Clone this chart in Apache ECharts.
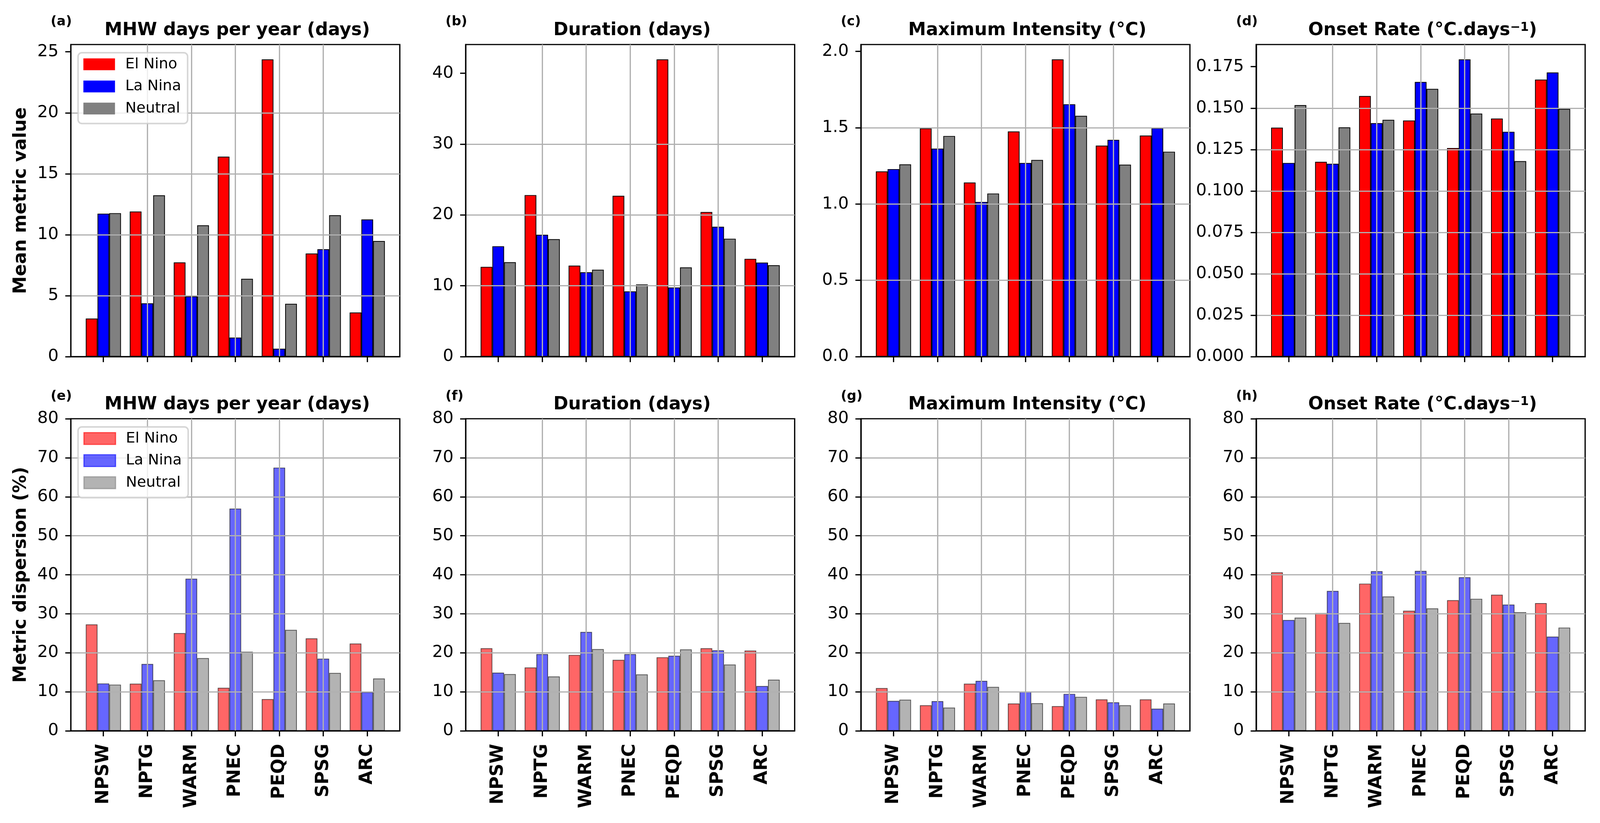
<!DOCTYPE html>
<html><head><meta charset="utf-8">
<script src="https://cdn.jsdelivr.net/npm/echarts@6/dist/echarts.min.js"></script>
<style>html,body{margin:0;padding:0;background:#fff;overflow:hidden}#c{width:100vw;height:100vh}</style>
</head><body><div id="c"></div>
<script>
// ---------- data ----------
const regions = ['NPSW', 'NPTG', 'WARM', 'PNEC', 'PEQD', 'SPSG', 'ARC'];
const seriesNames = ['El Nino', 'La Nina', 'Neutral'];
const panelTitles = ['MHW days per year (days)', 'Duration (days)', 'Maximum Intensity (°C)', 'Onset Rate (°C.days{sup|−1})'];
const panelLetters = ['(a)', '(b)', '(c)', '(d)', '(e)', '(f)', '(g)', '(h)'];
const yNames = ['Mean metric value', 'Metric dispersion (%)'];

// top row: mean metric value
const meanDaysElNino  = [3.12, 11.90, 7.73, 16.40, 24.38, 8.46, 3.62];
const meanDaysLaNina  = [11.73, 4.37, 4.94, 1.56, 0.65, 8.81, 11.25];
const meanDaysNeutral = [11.77, 13.23, 10.77, 6.38, 4.33, 11.60, 9.48];

const meanDurElNino  = [12.67, 22.80, 12.84, 22.70, 41.95, 20.41, 13.80];
const meanDurLaNina  = [15.58, 17.20, 11.91, 9.20, 9.76, 18.33, 13.27];
const meanDurNeutral = [13.33, 16.58, 12.27, 10.19, 12.60, 16.64, 12.90];

const meanIntElNino  = [1.214, 1.496, 1.141, 1.476, 1.948, 1.383, 1.449];
const meanIntLaNina  = [1.229, 1.363, 1.014, 1.269, 1.654, 1.421, 1.498];
const meanIntNeutral = [1.260, 1.446, 1.069, 1.289, 1.578, 1.258, 1.343];

const meanOnsElNino  = [0.1382, 0.1176, 0.1573, 0.1425, 0.1259, 0.1437, 0.1672];
const meanOnsLaNina  = [0.1169, 0.1164, 0.1409, 0.1658, 0.1794, 0.1357, 0.1715];
const meanOnsNeutral = [0.1518, 0.1384, 0.1429, 0.1616, 0.1467, 0.1180, 0.1495];

// bottom row: metric dispersion (%)
const dispDaysElNino  = [27.29, 12.08, 25.05, 11.03, 8.13, 23.71, 22.37];
const dispDaysLaNina  = [12.15, 17.15, 39.00, 56.96, 67.47, 18.49, 9.92];
const dispDaysNeutral = [11.85, 12.97, 18.64, 20.28, 25.87, 14.84, 13.42];

const dispDurElNino  = [21.17, 16.25, 19.46, 18.19, 18.86, 21.17, 20.58];
const dispDurLaNina  = [14.91, 19.68, 25.35, 19.68, 19.24, 20.65, 11.48];
const dispDurNeutral = [14.54, 13.94, 20.95, 14.46, 20.88, 17.00, 13.12];

const dispIntElNino  = [10.96, 6.56, 12.08, 7.01, 6.34, 8.05, 8.05];
const dispIntLaNina  = [7.68, 7.60, 12.82, 10.07, 9.47, 7.31, 5.67];
const dispIntNeutral = [7.98, 5.96, 11.26, 7.08, 8.72, 6.56, 7.01];

const dispOnsElNino  = [40.63, 30.20, 37.73, 30.79, 33.48, 34.89, 32.73];
const dispOnsLaNina  = [28.41, 35.86, 40.93, 41.00, 39.37, 32.36, 24.16];
const dispOnsNeutral = [29.00, 27.66, 34.45, 31.39, 33.85, 30.42, 26.47];

// y tick labels
const yTicksDays = [0, 5, 10, 15, 20, 25];
const yTicksDur = [0, 10, 20, 30, 40];
const yTicksInt = [0.0, 0.5, 1.0, 1.5, 2.0];
const yTicksOns = [0.000, 0.025, 0.050, 0.075, 0.100, 0.125, 0.150, 0.175];
const yTicksDisp = [0, 10, 20, 30, 40, 50, 60, 70, 80];

// ---------- build ----------
const panels = [
  { vals: [meanDaysElNino, meanDaysLaNina, meanDaysNeutral], ticks: yTicksDays, dec: 0 },
  { vals: [meanDurElNino, meanDurLaNina, meanDurNeutral], ticks: yTicksDur, dec: 0 },
  { vals: [meanIntElNino, meanIntLaNina, meanIntNeutral], ticks: yTicksInt, dec: 1 },
  { vals: [meanOnsElNino, meanOnsLaNina, meanOnsNeutral], ticks: yTicksOns, dec: 3 },
  { vals: [dispDaysElNino, dispDaysLaNina, dispDaysNeutral], ticks: yTicksDisp, dec: 0, fixedMax: 80 },
  { vals: [dispDurElNino, dispDurLaNina, dispDurNeutral], ticks: yTicksDisp, dec: 0, fixedMax: 80 },
  { vals: [dispIntElNino, dispIntLaNina, dispIntNeutral], ticks: yTicksDisp, dec: 0, fixedMax: 80 },
  { vals: [dispOnsElNino, dispOnsLaNina, dispOnsNeutral], ticks: yTicksDisp, dec: 0, fixedMax: 80 }
];

const dom = document.getElementById('c');
const chart = echarts.init(dom, null, { renderer: 'canvas' });
const CW = chart.getWidth(), CH = chart.getHeight();
const sx = CW / 4202, sy = CH / 2107, sf = Math.min(sx, sy);
const X = v => v * sx, Y = v => v * sy, F = v => v * sf;

const FONT = 'DejaVu Sans';
const colsTop = ['#ff0000', '#0000ff', '#808080'];
const lefts = [186, 1223, 2261, 3299];
const tops = [114, 1072];
const PW = 864, PH = 799;
const barW = 0.8 / 3;
const n = regions.length;
const xLo = -1.5 * barW, xHi = n - 1 + 1.5 * barW;
const xPad = 0.05 * (xHi - xLo);
const xMin = xLo - xPad, xMax = xHi + xPad;
const catIdx = regions.map((_, i) => i);
const LW = F(3.3);

const grids = [], xAxes = [], yAxes = [], series = [], titles = [];
panels.forEach((p, k) => {
  const row = k < 4 ? 0 : 1, col = k % 4;
  const left = lefts[col], top = tops[row];
  grids.push({ left: X(left), top: Y(top), width: X(PW), height: Y(PH), show: true,
    borderColor: '#000', borderWidth: LW, backgroundColor: 'transparent',
    containLabel: false, outerBoundsMode: 'none' });
  const allMax = Math.max(...p.vals.map(a => Math.max(...a)));
  const yMax = p.fixedMax !== undefined ? p.fixedMax : allMax * 1.05;
  const interval = p.ticks[1] - p.ticks[0];
  xAxes.push({
    type: 'value', gridIndex: k, min: xMin, max: xMax, splitNumber: 7, z: 3,
    axisLine: { show: true, onZero: false, lineStyle: { color: '#000', width: LW } },
    axisTick: { show: true, length: F(14.5), customValues: catIdx, lineStyle: { color: '#000', width: LW } },
    axisLabel: {
      show: row === 1, customValues: catIdx, rotate: 90, margin: F(34),
      fontSize: F(47), fontWeight: 'bold', color: '#000', fontFamily: FONT,
      formatter: v => regions[Math.round(v)] || ''
    },
    splitLine: { show: true, showMinLine: false, showMaxLine: false, lineStyle: { color: '#b0b0b0', width: LW } }
  });
  yAxes.push({
    type: 'value', gridIndex: k, min: 0, max: yMax, interval, z: 3,
    axisLine: { show: true, onZero: false, lineStyle: { color: '#000', width: LW } },
    axisTick: { show: true, length: F(14.5), customValues: p.ticks, lineStyle: { color: '#000', width: LW } },
    axisLabel: {
      customValues: p.ticks, margin: F(32), fontSize: F(44), color: '#000', fontFamily: FONT,
      formatter: v => Number(v).toFixed(p.dec)
    },
    splitLine: { show: true, showMinLine: false, showMaxLine: false, lineStyle: { color: '#b0b0b0', width: LW } },
    name: col === 0 ? yNames[row] : '',
    nameLocation: 'middle', nameGap: F(107), nameRotate: 90,
    nameTextStyle: { fontSize: F(47), fontWeight: 'bold', color: '#000', fontFamily: FONT }
  });
  p.vals.forEach((vals, s) => {
    series.push({
      type: 'bar', name: seriesNames[s], xAxisIndex: k, yAxisIndex: k,
      data: vals.map((v, i) => [catIdx[i], v]),
      barWidth: (barW * 100).toFixed(3) + '%', barGap: '0%',
      itemStyle: { color: colsTop[s], borderColor: '#000', borderWidth: F(2), opacity: row === 1 ? 0.6 : 1 },
      z: 2, silent: true, animation: false
    });
  });
  titles.push({
    text: panelTitles[col], left: X(left + PW / 2), top: Y(row === 0 ? 50 : 1008), textAlign: 'center',
    textStyle: {
      fontSize: F(47), fontWeight: 'bold', color: '#000', fontFamily: FONT,
      rich: { sup: { fontSize: F(32), fontWeight: 'bold', color: '#000', fontFamily: FONT, verticalAlign: 'top', padding: [0, 0, F(14), 0] } }
    }
  });
  titles.push({
    text: panelLetters[k], left: X(left - 58), top: Y(row === 0 ? 34 : 993),
    textStyle: { fontSize: F(35), fontWeight: 'bold', color: '#000', fontFamily: FONT }
  });
});

function legendFor(row, top) {
  return {
    orient: 'vertical', left: X(205), top: Y(top), icon: 'rect', itemWidth: F(83), itemHeight: F(31), itemGap: F(19),
    selectedMode: false,
    data: seriesNames.map((nm, s) => ({
      name: nm,
      itemStyle: row === 0 ? { color: colsTop[s], borderWidth: 0 } :
        { color: colsTop[s], opacity: 0.6, borderColor: colsTop[s], borderWidth: F(3) }
    })),
    padding: [F(11), F(17), F(20), F(14)],
    backgroundColor: 'rgba(255,255,255,0.8)', borderColor: 'rgba(204,204,204,0.8)', borderWidth: F(4), borderRadius: F(10),
    textStyle: { fontSize: F(39), lineHeight: F(39), color: '#000', fontFamily: FONT, padding: [0, 0, 0, F(22)] },
    z: 10
  };
}

const option = {
  backgroundColor: '#fff',
  animation: false,
  title: titles,
  legend: [legendFor(0, 135), legendFor(1, 1093)],
  grid: grids, xAxis: xAxes, yAxis: yAxes, series
};
chart.setOption(option);
</script></body></html>
